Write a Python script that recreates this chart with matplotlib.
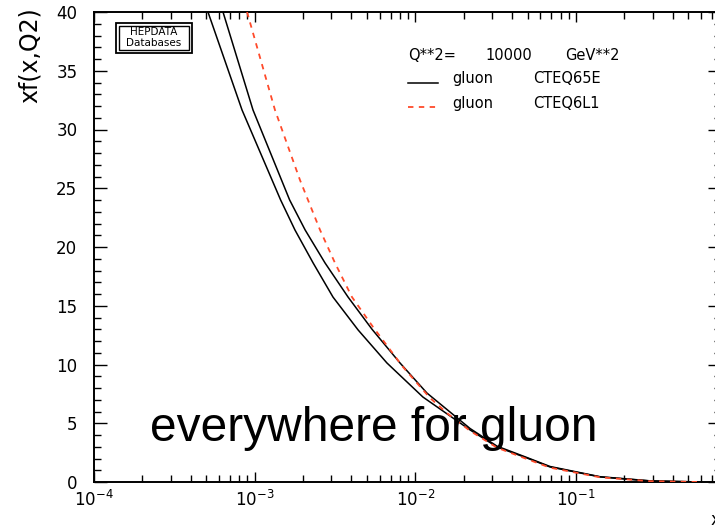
import matplotlib
matplotlib.use("Agg")
import matplotlib.pyplot as plt
from matplotlib.patches import Rectangle
from matplotlib.ticker import LogLocator, MultipleLocator, NullFormatter

# ── data (x, xf(x,Q2)) ───────────────────────────────────────────────────────
x_cteq65e_lo = [5.12e-4, 8.34e-4, 1.45e-3, 1.78e-3, 2.31e-3, 3.07e-3, 4.40e-3,
                6.65e-3, 0.01114, 0.0219, 0.0322, 0.0495, 0.0688, 0.1409,
                0.288, 0.59]
y_cteq65e_lo = [40.0, 31.66, 24.0, 21.45, 18.64, 15.74, 12.94,
                10.13, 7.23, 4.43, 2.98, 2.04, 1.28, 0.43,
                0.09, 0.0]

x_cteq65e_hi = [6.35e-4, 9.76e-4, 1.65e-3, 2.06e-3, 2.74e-3, 3.81e-3, 5.37e-3,
                8.02e-3, 0.0118, 0.0219, 0.0322, 0.0495, 0.0688, 0.1409,
                0.288, 0.59]
y_cteq65e_hi = [40.0, 31.66, 24.0, 21.45, 18.64, 15.74, 13.0,
                10.13, 7.57, 4.55, 3.05, 2.08, 1.32, 0.45,
                0.1, 0.0]

x_cteq6l1 = [8.96e-4, 1.337e-3, 1.913e-3, 2.146e-3, 2.55e-3, 3.16e-3, 4.03e-3,
             5.45e-3, 8.37e-3, 0.01233, 0.01572, 0.0219, 0.0322, 0.0495,
             0.0688, 0.1409, 0.288, 0.59]
y_cteq6l1 = [40.0, 31.66, 25.7, 24.0, 21.45, 18.64, 15.74,
             13.19, 9.79, 7.15, 5.87, 4.35, 2.92, 1.95,
             1.22, 0.4, 0.07, 0.0]

q2_value = "10000"
red = "#ff4a2a"

# axes box in pixels of the 715x528 reference
L, R, T, B = 94, 721, 12, 482
W, H = 715, 528


def ax_pos(px, py):
    return (px - L) / (R - L), (B - py) / (B - T)


fig = plt.figure(figsize=(7.15, 5.28), dpi=100)
ax = fig.add_axes([L / W, (H - B) / H, (R - L) / W, (B - T) / H])

ax.plot(x_cteq65e_lo, y_cteq65e_lo, color="black", lw=1.1, zorder=3)
ax.plot(x_cteq65e_hi, y_cteq65e_hi, color="black", lw=1.1, zorder=3)
ax.plot(x_cteq6l1, y_cteq6l1, color=red, lw=1.3, ls=(0, (3, 3)), zorder=4)

ax.set_xscale("log")
ax.set_xlim(1e-4, 10 ** ((R - L) / 160.7 - 4))
ax.set_ylim(0, 40)

ax.xaxis.set_major_locator(LogLocator(base=10, numticks=10))
ax.xaxis.set_minor_locator(LogLocator(base=10, subs=range(2, 10), numticks=20))
ax.xaxis.set_minor_formatter(NullFormatter())
ax.yaxis.set_major_locator(MultipleLocator(5))
ax.yaxis.set_minor_locator(MultipleLocator(1))

ax.tick_params(axis="both", which="both", direction="in",
               top=True, right=True, width=1.0, labelsize=12)
ax.tick_params(axis="x", which="major", length=7.5, pad=6)
ax.tick_params(axis="x", which="minor", length=5)
ax.tick_params(axis="y", which="major", length=9.5, pad=12)
ax.tick_params(axis="y", which="minor", length=5)
for sp in ax.spines.values():
    sp.set_linewidth(1.4)

# y axis title
fig.text(30 / W, 1 - 7 / H, "xf(x,Q2)", rotation=90, ha="center", va="top",
         fontsize=17)
# cropped x label at the right edge (cut off in the reference too)
fig.text(711 / W, 1 - 520 / H, "x", ha="left", va="center", fontsize=12)

# HEPDATA stamp
x0, y0 = ax_pos(116, 53)
x1, y1 = ax_pos(192, 23)
ax.add_patch(Rectangle((x0, y0), x1 - x0, y1 - y0, transform=ax.transAxes,
                       fill=False, lw=1.3, ec="black", zorder=5))
xi0, yi0 = ax_pos(119, 50)
xi1, yi1 = ax_pos(189, 26)
ax.add_patch(Rectangle((xi0, yi0), xi1 - xi0, yi1 - yi0, transform=ax.transAxes,
                       fill=False, lw=1.0, ec="black", zorder=5))
ax.text(*ax_pos(154, 32), "HEPDATA", transform=ax.transAxes, ha="center",
        va="center", fontsize=7.5)
ax.text(*ax_pos(154, 43), "Databases", transform=ax.transAxes, ha="center",
        va="center", fontsize=7.5)

# legend block
ax.text(*ax_pos(408, 60), "Q**2=", transform=ax.transAxes, ha="left",
        va="baseline", fontsize=10.5)
ax.text(*ax_pos(485, 60), q2_value, transform=ax.transAxes, ha="left",
        va="baseline", fontsize=10.5)
ax.text(*ax_pos(565, 60), "GeV**2", transform=ax.transAxes, ha="left",
        va="baseline", fontsize=10.5)

lx0, ly = ax_pos(408, 83)
lx1, _ = ax_pos(438, 83)
ax.plot([lx0, lx1], [ly, ly], transform=ax.transAxes, color="black", lw=1.1)
ax.text(*ax_pos(452, 83), "gluon", transform=ax.transAxes, ha="left",
        va="baseline", fontsize=10.5)
ax.text(*ax_pos(533, 83), "CTEQ65E", transform=ax.transAxes, ha="left",
        va="baseline", fontsize=10.5)

lx0, ly = ax_pos(408, 107)
lx1, _ = ax_pos(440, 107)
ax.plot([lx0, lx1], [ly, ly], transform=ax.transAxes, color=red, lw=1.3,
        ls=(0, (3, 3)))
ax.text(*ax_pos(452, 108), "gluon", transform=ax.transAxes, ha="left",
        va="baseline", fontsize=10.5)
ax.text(*ax_pos(533, 108), "CTEQ6L1", transform=ax.transAxes, ha="left",
        va="baseline", fontsize=10.5)

# slide annotation
ax.text(*ax_pos(150, 441), "everywhere for gluon", transform=ax.transAxes,
        ha="left", va="baseline", fontsize=34.5, family="Liberation Sans",
        zorder=6)

fig.savefig("out.png", dpi=100)
